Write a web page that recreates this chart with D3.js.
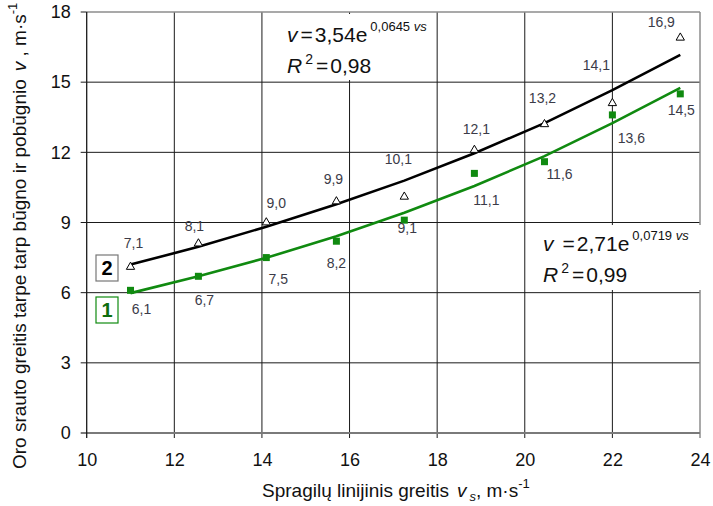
<!DOCTYPE html>
<html>
<head>
<meta charset="utf-8">
<script src="https://cdn.jsdelivr.net/npm/d3@7"></script>
<style>
  body { margin: 0; background: #fff; }
  svg { display: block; font-family: "Liberation Sans", Arial, sans-serif; }
</style>
</head>
<body>
<script>
// data
var speedVs = [11, 12.55, 14.1, 15.7, 17.25, 18.85, 20.45, 22, 23.55];
var series2 = [7.1, 8.1, 9.0, 9.9, 10.1, 12.1, 13.2, 14.1, 16.9];
var series1 = [6.1, 6.7, 7.5, 8.2, 9.1, 11.1, 11.6, 13.6, 14.5];
// trend lines as read at the same x positions
var trend2 = [7.2, 7.96, 8.82, 9.78, 10.79, 11.96, 13.25, 14.66, 16.17];
var trend1 = [5.98, 6.70, 7.49, 8.41, 9.42, 10.56, 11.84, 13.25, 14.76];
var labels2 = ['7,1', '8,1', '9,0', '9,9', '10,1', '12,1', '13,2', '14,1', '16,9'];
var labels1 = ['6,1', '6,7', '7,5', '8,2', '9,1', '11,1', '11,6', '13,6', '14,5'];
var xTicks = [10, 12, 14, 16, 18, 20, 22, 24];
var yTicks = [0, 3, 6, 9, 12, 15, 18];

// label offsets (px) from their points
var off2 = [[3, -19], [-4, -13], [10, -15], [-3, -17], [-6, -33], [2, -16], [-2, -21], [-16, -33], [-19, -11]];
var off1 = [[11, 24], [6, 29], [12, 26], [0, 27], [3, 13], [12, 32], [15, 17], [19, 28], [1, 21]];

var W = 713, H = 506;
var green = '#108a10';
var labelColor = '#3b3b48';

var svg = d3.select('body').append('svg').attr('width', W).attr('height', H);

var x = d3.scaleLinear().domain([10, 24]).range([86.7, 700]);
var y = d3.scaleLinear().domain([0, 18]).range([433, 12]);

// grid
var g = svg.append('g');
g.selectAll('.vgrid').data(xTicks.slice(1, -1)).enter().append('line')
	.attr('x1', function(d) { return x(d); }).attr('x2', function(d) { return x(d); })
	.attr('y1', y(18)).attr('y2', y(0) + 5)
	.attr('stroke', '#1a1a1a').attr('stroke-width', 1);
g.selectAll('.hgrid').data(yTicks.slice(1, -1)).enter().append('line')
	.attr('x1', x(10) - 6).attr('x2', x(24))
	.attr('y1', function(d) { return y(d); }).attr('y2', function(d) { return y(d); })
	.attr('stroke', '#1a1a1a').attr('stroke-width', 1);

// frame: top/right/bottom grey, left dark
g.append('line').attr('x1', x(10)).attr('x2', x(24)).attr('y1', y(18)).attr('y2', y(18))
	.attr('stroke', '#8c8c8c').attr('stroke-width', 1.5);
g.append('line').attr('x1', x(24)).attr('x2', x(24)).attr('y1', y(18)).attr('y2', y(0) + 5)
	.attr('stroke', '#8c8c8c').attr('stroke-width', 1.5);
g.append('line').attr('x1', x(10) - 6).attr('x2', x(24)).attr('y1', y(0)).attr('y2', y(0))
	.attr('stroke', '#7a7a7a').attr('stroke-width', 2);
g.append('line').attr('x1', x(10) - 6).attr('x2', x(10)).attr('y1', y(18)).attr('y2', y(18))
	.attr('stroke', '#1a1a1a');
g.append('line').attr('x1', x(10)).attr('x2', x(10)).attr('y1', y(18)).attr('y2', y(0) + 5)
	.attr('stroke', '#1a1a1a').attr('stroke-width', 1.3);

// axes labels via d3 axis (ticks hidden, only text)
var xAxis = d3.axisBottom(x).tickValues(xTicks).tickSize(0).tickPadding(20);
var xa = svg.append('g').attr('transform', 'translate(0,' + y(0) + ')').call(xAxis);
var yAxis = d3.axisLeft(y).tickValues(yTicks).tickSize(0).tickPadding(16);
var ya = svg.append('g').attr('transform', 'translate(' + x(10) + ',0)').call(yAxis);
[xa, ya].forEach(function(a) {
	a.select('.domain').remove();
	a.selectAll('text').attr('font-size', 18).attr('fill', '#111')
		.attr('font-family', '"Liberation Sans", Arial, sans-serif');
});

// white boxes behind the equations
svg.append('rect').attr('x', 280).attr('y', 14).attr('width', 148).attr('height', 66).attr('fill', '#fff');
svg.append('rect').attr('x', 538).attr('y', 225).attr('width', 170).attr('height', 65).attr('fill', '#fff');

// trend lines
var line = d3.line()
	.x(function(d, i) { return x(speedVs[i]); })
	.y(function(d) { return y(d); });
svg.append('path').datum(trend2).attr('d', line)
	.attr('fill', 'none').attr('stroke', '#000').attr('stroke-width', 2.6);
svg.append('path').datum(trend1).attr('d', line)
	.attr('fill', 'none').attr('stroke', green).attr('stroke-width', 2.6);

// markers
svg.selectAll('.sq').data(series1).enter().append('rect')
	.attr('x', function(d, i) { return x(speedVs[i]) - 3.5; })
	.attr('y', function(d) { return y(d) - 3.5; })
	.attr('width', 7).attr('height', 7)
	.attr('fill', green);
var tri = d3.symbol().type(d3.symbolTriangle).size(30);
svg.selectAll('.tri').data(series2).enter().append('path')
	.attr('d', tri)
	.attr('transform', function(d, i) { return 'translate(' + x(speedVs[i]) + ',' + y(d) + ')'; })
	.attr('fill', '#fff').attr('stroke', '#000').attr('stroke-width', 1);

// value labels
function valueLabels(vals, labs, offs) {
	svg.selectAll(null).data(vals).enter().append('text')
		.attr('x', function(d, i) { return x(speedVs[i]) + offs[i][0]; })
		.attr('y', function(d, i) { return y(d) + offs[i][1]; })
		.attr('text-anchor', 'middle')
		.attr('font-size', 14)
		.attr('fill', labelColor)
		.text(function(d, i) { return labs[i]; });
}
valueLabels(series2, labels2, off2);
valueLabels(series1, labels1, off1);

// equations
function equation(x0, y0, a, b, r2, gap) {
	var t = svg.append('text').attr('x', x0).attr('y', y0).attr('font-size', 21).attr('fill', '#111');
	t.append('tspan').attr('font-style', 'italic').text('v');
	t.append('tspan').attr('dx', gap).text('=');
	t.append('tspan').attr('dx', 2).text(a + 'e');
	t.append('tspan').attr('dy', -11).attr('dx', 3).attr('font-size', 13).text(b + ' ');
	t.append('tspan').attr('font-size', 13).attr('font-style', 'italic').text('vs');
	var r = svg.append('text').attr('x', x0).attr('y', y0 + 31).attr('font-size', 21).attr('fill', '#111');
	r.append('tspan').attr('font-style', 'italic').text('R');
	r.append('tspan').attr('dy', -9).attr('dx', 3).attr('font-size', 14).text('2');
	r.append('tspan').attr('dy', 9).attr('dx', 3).text('=');
	r.append('tspan').attr('dx', 2).text(r2);
}
equation(287, 42, '3,54', '0,0645', '0,98', 3);
equation(543, 251, '2,71', '0,0719', '0,99', 9);

// series legend boxes
function tag(y0, txt, stroke, fill) {
	svg.append('rect').attr('x', 96).attr('y', y0).attr('width', 22).attr('height', 26)
		.attr('fill', '#fff').attr('stroke', stroke).attr('stroke-width', 1.2);
	svg.append('text').attr('x', 107).attr('y', y0 + 20).attr('text-anchor', 'middle')
		.attr('font-size', 20).attr('font-weight', 'bold').attr('fill', fill).text(txt);
}
tag(255, '2', '#777', '#000');
tag(297, '1', green, '#0e6e0e');

// axis titles
var xt = svg.append('text').attr('x', 262).attr('y', 497).attr('font-size', 19).attr('fill', '#111');
xt.append('tspan').text('Spragilų linijinis greitis');
xt.append('tspan').attr('dx', 8).attr('font-style', 'italic').text('v');
xt.append('tspan').attr('font-style', 'italic').attr('font-size', 13).attr('dx', 3).attr('dy', 4).text('s');
xt.append('tspan').attr('dy', -4).text(', m·s');
xt.append('tspan').attr('font-size', 13).attr('dy', -9).text('-1');

var yt = svg.append('text').attr('transform', 'translate(26,469) rotate(-90)')
	.attr('font-size', 19).attr('fill', '#111');
yt.append('tspan').text('Oro srauto greitis tarpe tarp būgno ir pobūgnio');
yt.append('tspan').attr('dx', 8).attr('font-style', 'italic').text('v');
yt.append('tspan').text(' , m·s');
yt.append('tspan').attr('font-size', 13).attr('dy', -9).text('-1');
</script>
</body>
</html>
